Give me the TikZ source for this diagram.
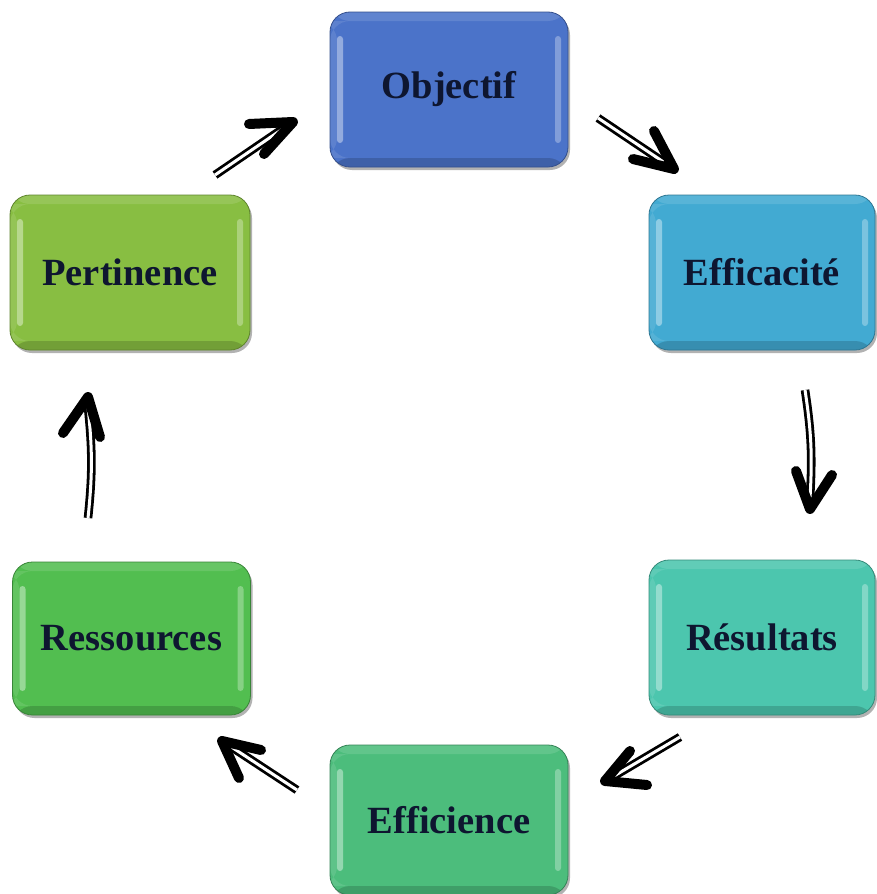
\documentclass[tikz,border=0pt]{standalone}
\usepackage{fontspec}
\setmainfont{Liberation Serif}
\usetikzlibrary{calc,shadows}
\definecolor{cObj}{HTML}{4B73C9}
\definecolor{cEff}{HTML}{42AAD2}
\definecolor{cRes}{HTML}{4CC6AE}
\definecolor{cEfi}{HTML}{4CBD7C}
\definecolor{cRss}{HTML}{52BE50}
\definecolor{cPer}{HTML}{88BE42}
\definecolor{txt}{HTML}{0E1630}
\tikzset{
  box/.style={rectangle, rounded corners=20pt, fill=#1, draw=#1!70!black, line width=0.8pt,
    minimum width=238pt, minimum height=155pt, inner sep=0pt,
    font=\fontsize{38.5}{42}\selectfont\bfseries, text=txt,
    drop shadow={shadow xshift=2pt, shadow yshift=-3pt, opacity=.3, fill=black},
    path picture={
      \path (path picture bounding box.south west) coordinate (pa)
            (path picture bounding box.north east) coordinate (pb);
      \fill[white, opacity=.12] ($(pa|-pb)+(0,-9pt)$) rectangle (pb);
      \fill[black, opacity=.16] (pa) rectangle ($(pb|-pa)+(0,9pt)$);
      \fill[white, opacity=.40, rounded corners=3pt] ($(pa)+(7pt,24pt)$) rectangle ($(pa|-pb)+(13pt,-24pt)$);
      \fill[white, opacity=.30, rounded corners=3pt] ($(pb|-pa)+(-13pt,24pt)$) rectangle ($(pb)+(-7pt,-24pt)$);
      \fill[white, opacity=.10] ($(pa)+(0,9pt)$) rectangle ($(pa|-pb)+(7pt,-9pt)$);
    }},
  shaft/.style={draw=black, double=white, double distance=3pt, line width=2.8pt},
  head/.style={draw=black, line width=10pt, line cap=round, line join=round}
}
\begin{document}
\begin{tikzpicture}[x=1pt,y=-1pt]
\useasboundingbox[fill=white] (0,0) rectangle (876,894);

\node[box=cObj] (obj) at (449,89.5) {Objectif};
\node[box=cEff, minimum width=226pt] (eff) at (762,272.5) {Efficacité};
\node[box=cRes, minimum width=226pt] (res) at (762,637.5) {Résultats};
\node[box=cEfi, minimum height=150pt] (efi) at (449,820) {Efficience};
\node[box=cRss, minimum height=153pt] (rss) at (131.5,638.5) {Ressources};
\node[box=cPer, minimum width=240pt] (per) at (130,272.5) {Pertinence};

% arrow 1: Pertinence -> Objectif
\coordinate (a1s) at (215,175); \coordinate (a1e) at (284,128); \coordinate (a1t) at (293,122);
\coordinate (a1l) at (249,124); \coordinate (a1r) at (264,154);
\draw[shaft] (a1s) -- (a1e);
\draw[head] (a1l) -- (a1t) -- (a1r);

% arrow 2: Objectif -> Efficacité
\coordinate (a2s) at (598,118); \coordinate (a2e) at (665,163); \coordinate (a2t) at (674,169);
\coordinate (a2l) at (654,131); \coordinate (a2r) at (633,159);
\draw[shaft] (a2s) -- (a2e);
\draw[head] (a2l) -- (a2t) -- (a2r);

% arrow 3: Efficacité -> Résultats
\coordinate (a3s) at (805,390); \coordinate (a3e) at (810,498); \coordinate (a3t) at (810,509);
\coordinate (a3l) at (796,471); \coordinate (a3r) at (832,475);
\draw[shaft] (a3s) to[bend left=6] (a3e);
\draw[head] (a3l) -- (a3t) -- (a3r);

% arrow 4: Résultats -> Efficience
\coordinate (a4s) at (680,737); \coordinate (a4e) at (614,776); \coordinate (a4t) at (605,781);
\coordinate (a4l) at (630,751); \coordinate (a4r) at (647,785);
\draw[shaft] (a4s) -- (a4e);
\draw[head] (a4l) -- (a4t) -- (a4r);

% arrow 5: Efficience -> Ressources
\coordinate (a5s) at (297,790); \coordinate (a5e) at (230,746); \coordinate (a5t) at (222,741);
\coordinate (a5l) at (261,750); \coordinate (a5r) at (239,778);
\draw[shaft] (a5s) -- (a5e);
\draw[head] (a5l) -- (a5t) -- (a5r);

% arrow 6: Ressources -> Pertinence
\coordinate (a6s) at (88,518); \coordinate (a6e) at (88,407); \coordinate (a6t) at (88,397);
\coordinate (a6l) at (63,433); \coordinate (a6r) at (100,437);
\draw[shaft] (a6s) to[bend right=6] (a6e);
\draw[head] (a6l) -- (a6t) -- (a6r);
\end{tikzpicture}
\end{document}
